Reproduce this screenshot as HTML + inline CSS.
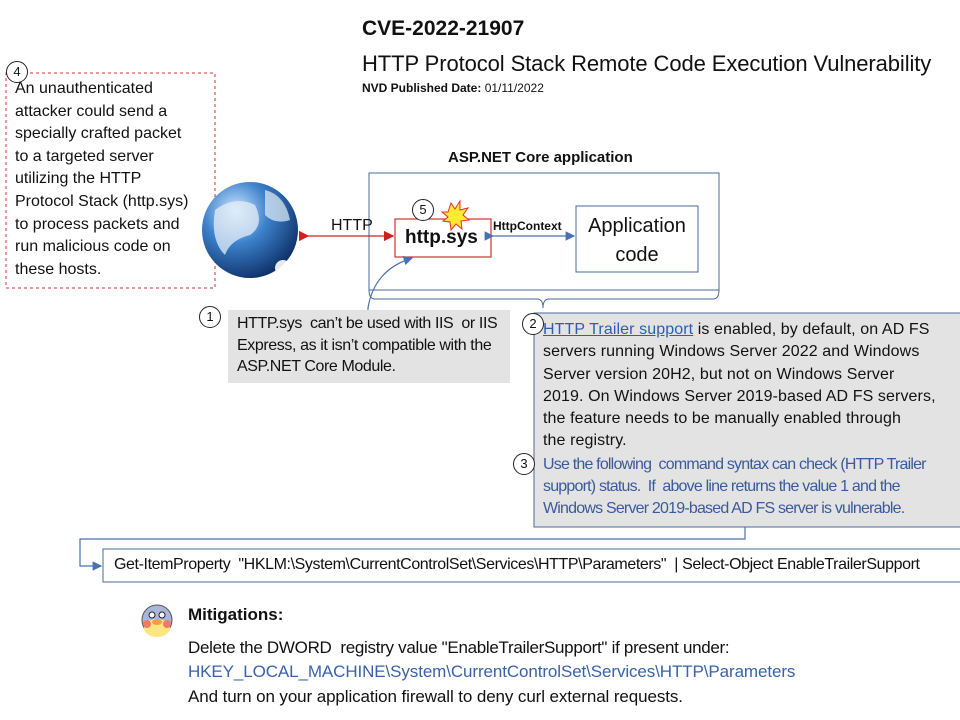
<!DOCTYPE html>
<html><head><meta charset="utf-8"><style>
body{margin:0;width:960px;height:720px;background:#fff;position:relative;overflow:hidden;font-family:"Liberation Sans",sans-serif;color:#111}
.a{position:absolute;white-space:nowrap}
.c{position:absolute;width:20px;height:20px;border:1px solid #222;border-radius:50%;background:#fff;font-size:13px;text-align:center;line-height:20px}
</style></head><body>
<svg width="960" height="720" style="position:absolute;left:0;top:0">
<defs>
<marker id="rb" markerWidth="8" markerHeight="8" refX="7" refY="4" orient="auto"><path d="M0,0 L8,4 L0,8z" fill="#d02020"/></marker>
<marker id="bb" markerWidth="8" markerHeight="8" refX="7" refY="4" orient="auto"><path d="M0,0 L8,4 L0,8z" fill="#4a72b0"/></marker>
<radialGradient id="g" cx="35%" cy="30%" r="75%"><stop offset="0" stop-color="#cfe6ff"/><stop offset="0.45" stop-color="#3d82cc"/><stop offset="1" stop-color="#0d2f66"/></radialGradient>
</defs>
<rect x="6" y="73" width="209" height="215" fill="none" stroke="#d03030" stroke-dasharray="3,3"/>
<circle cx="250" cy="230" r="48" fill="url(#g)"/>
<path d="M215,210 q20,-15 40,-5 q10,20 -5,30 q-20,5 -25,20 q-15,-15 -10,-45z" fill="#e6eef7" opacity=".75"/>
<path d="M265,190 q20,5 25,30 q-15,5 -25,-5z" fill="#e6eef7" opacity=".7"/>
<circle cx="283" cy="268" r="8" fill="#fff" opacity=".9"/>
<rect x="369" y="173" width="350" height="117" fill="none" stroke="#4a6a9a" stroke-width="1"/>
<rect x="395" y="219" width="96" height="38" fill="#fff" stroke="#d03030" stroke-width="1.2"/>
<rect x="576" y="206" width="122" height="66" fill="#fff" stroke="#4a6a9a"/>
<line x1="308" y1="236" x2="393" y2="236" stroke="#d02020" stroke-width="1.3" marker-end="url(#rb)" marker-start="url(#rb)"/>
<line x1="493" y1="236" x2="574" y2="236" stroke="#4a72b0" stroke-width="1.2" marker-end="url(#bb)" marker-start="url(#bb)"/>
<path d="M369,290 q0,9 6,9 L537,299 q6,0 6,9 q0,-9 6,-9 L713,299 q6,0 6,-9" fill="none" stroke="#4a6a9a"/>
<path d="M368,324 L368,308 q6,-38 44,-50" fill="none" stroke="#4a72b0" stroke-width="1.2" marker-end="url(#bb)"/>
<path d="M745,527 L745,539 L80,539 L80,566 L101,566" fill="none" stroke="#4a72b0" stroke-width="1.2" marker-end="url(#bb)"/>
<rect x="228" y="310" width="282" height="73" fill="#e3e3e3"/>
<rect x="534" y="313" width="430" height="214" fill="#e3e3e3" stroke="#4a6a9a"/>
<rect x="103" y="549" width="860" height="33" fill="#fff" stroke="#4a6a9a"/>
<polygon points="448,212 451,203 455,209 460,201 460,210 468,208 463,215 469,220 461,221 462,229 456,224 451,230 450,222 443,221 448,217 442,212" fill="#ffec30" stroke="#e03030" stroke-width="1"/>
<circle cx="157" cy="620" r="15" fill="#a9b6d8" stroke="#555"/>
<ellipse cx="157" cy="628" rx="13" ry="9" fill="#ffe680"/>
<circle cx="147" cy="624" r="4" fill="#f27a6a"/><circle cx="167" cy="624" r="4" fill="#f27a6a"/>
<circle cx="152" cy="615" r="3" fill="#fff" stroke="#222"/><circle cx="162" cy="615" r="3" fill="#fff" stroke="#222"/>
<ellipse cx="157" cy="622" rx="5" ry="3" fill="#f4a040"/>
</svg>
<div class="a" style="left:362px;top:17px;font-size:21px;font-weight:bold">CVE-2022-21907</div>
<div class="a" style="left:362px;top:51px;font-size:22px;letter-spacing:-0.1px">HTTP Protocol Stack Remote Code Execution Vulnerability</div>
<div class="a" style="left:362px;top:81px;font-size:12px"><b>NVD Published Date:</b> 01/11/2022</div>
<div class="c" style="left:6px;top:61px">4</div>
<div class="a" style="left:15px;top:78px;font-size:16px;line-height:22.6px">An unauthenticated<br>attacker could send a<br>specially crafted packet<br>to a targeted server<br>utilizing the HTTP<br>Protocol Stack (http.sys)<br>to process packets and<br>run malicious code on<br>these hosts.</div>
<div class="a" style="left:448px;top:149px;font-size:15px;font-weight:bold">ASP.NET Core application</div>
<div class="a" style="left:331px;top:217px;font-size:16px">HTTP</div>
<div class="c" style="left:412px;top:199px">5</div>
<div class="a" style="left:405px;top:227px;font-size:19px;font-weight:bold">http.sys</div>
<div class="a" style="left:493px;top:219px;font-size:12px;font-weight:bold">HttpContext</div>
<div class="a" style="left:576px;top:212px;width:122px;text-align:center;font-size:20px;line-height:29px;white-space:normal">Application<br>code</div>
<div class="c" style="left:199px;top:306px">1</div>
<div class="a" style="left:237px;top:313px;font-size:16px;line-height:21.5px;letter-spacing:-0.4px">HTTP.sys &nbsp;can’t be used with IIS &nbsp;or IIS<br>Express, as it isn’t compatible with the<br>ASP.NET Core Module.</div>
<div class="c" style="left:522px;top:313px">2</div>
<div class="a" style="left:543px;top:319px;font-size:16px;line-height:22.3px;letter-spacing:0.1px"><span style="color:#2860b0;text-decoration:underline">HTTP Trailer support</span> is enabled, by default, on AD FS<br>servers running Windows Server 2022 and Windows<br>Server version 20H2, but not on Windows Server<br>2019. On Windows Server 2019-based AD FS servers,<br>the feature needs to be manually enabled through<br>the registry.</div>
<div class="c" style="left:513px;top:453px">3</div>
<div class="a" style="left:543px;top:454px;font-size:16px;line-height:22px;color:#3a5a9a;letter-spacing:-0.8px">Use the following &nbsp;command syntax can check (HTTP Trailer<br>support) status. &nbsp;If &nbsp;above line returns the value 1 and the<br>Windows Server 2019-based AD FS server is vulnerable.</div>
<div class="a" style="left:114px;top:556px;font-size:16px;letter-spacing:-0.4px">Get-ItemProperty &nbsp;"HKLM:\System\CurrentControlSet\Services\HTTP\Parameters" &nbsp;| Select-Object EnableTrailerSupport</div>
<div class="a" style="left:188px;top:605px;font-size:17px;font-weight:bold">Mitigations:</div>
<div class="a" style="left:188px;top:638px;font-size:17px;letter-spacing:-0.3px">Delete the DWORD &nbsp;registry value "EnableTrailerSupport" if present under:</div>
<div class="a" style="left:188px;top:662px;font-size:17px;color:#3a62a8;letter-spacing:-0.1px">HKEY_LOCAL_MACHINE\System\CurrentControlSet\Services\HTTP\Parameters</div>
<div class="a" style="left:188px;top:687px;font-size:17px;letter-spacing:-0.1px">And turn on your application firewall to deny curl external requests.</div>
</body></html>
